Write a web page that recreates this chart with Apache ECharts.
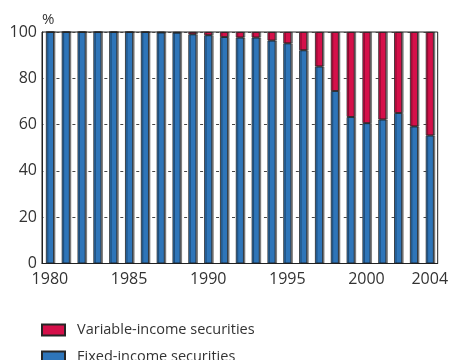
<!DOCTYPE html>
<html>
<head>
<meta charset="utf-8">
<script src="https://cdn.jsdelivr.net/npm/echarts@6/dist/echarts.min.js"></script>
<style>
  html, body { margin: 0; padding: 0; background: #fff; }
  #chart { width: 451px; height: 360px; }
</style>
</head>
<body>
<div id="chart"></div>
<script>
// Share of fixed- and variable-income securities, in per cent
const years = ['1980','1981','1982','1983','1984','1985','1986','1987','1988','1989',
               '1990','1991','1992','1993','1994','1995','1996','1997','1998','1999',
               '2000','2001','2002','2003','2004'];
const fixedIncome = [100, 100, 100, 100, 100, 100, 100, 99.8, 99.7, 99.0,
                     98.6, 97.8, 97.6, 97.6, 96.3, 95.1, 92.1, 85.1, 74.5, 63.3,
                     60.6, 62.2, 65.0, 59.2, 55.3];
const variableIncome = [0, 0, 0, 0, 0, 0, 0, 0.2, 0.3, 1.0,
                        1.4, 2.2, 2.4, 2.4, 3.7, 4.9, 7.9, 14.9, 25.5, 36.7,
                        39.4, 37.8, 35.0, 40.8, 44.7];
const yTicks = [0, 20, 40, 60, 80, 100];
const labelledYears = ['1980', '1985', '1990', '1995', '2000', '2004'];

const FONT = '"Open Sans", "Noto Sans", sans-serif';
const TEXT = '#333333';
const BLUE = '#2e75b9';
const RED = '#d5104a';
const VAR_NAME = 'Variable-income securities';
const FIX_NAME = 'Fixed-income securities';

const chart = echarts.init(document.getElementById('chart'), null, { renderer: 'canvas' });

const barStyle = (color) => ({
  color: color,
  borderColor: '#262626',
  borderWidth: 0.8,
  shadowColor: 'rgba(0,0,0,0.45)',
  shadowOffsetX: 1.5,
  shadowOffsetY: 0,
  shadowBlur: 0
});

const legendItem = (name, top) => ({
  orient: 'vertical',
  left: 41, top: top,
  padding: 0,
  itemWidth: 23, itemHeight: 11,
  icon: 'rect',
  data: [name],
  textStyle: { fontFamily: FONT, fontSize: 14.5, color: TEXT, padding: [0, 0, 0, 7] }
});

const slot = 399 / years.length;

chart.setOption({
  animation: false,
  title: {
    text: '%',
    left: 37,
    top: 7,
    textStyle: { fontFamily: FONT, fontSize: 15, fontWeight: 'normal', color: TEXT }
  },
  grid: {
    left: 42, right: 10, top: 32, height: 231.5,
    show: true, borderColor: '#222', borderWidth: 1, backgroundColor: 'transparent'
  },
  legend: [legendItem(VAR_NAME, 322.5), legendItem(FIX_NAME, 349.5)],
  xAxis: {
    type: 'category',
    data: years,
    axisLine: { lineStyle: { color: '#222', width: 1 } },
    axisTick: { show: false },
    axisLabel: {
      interval: 0,
      margin: 8,
      fontFamily: FONT, fontSize: 16, color: TEXT,
      formatter: (v) => labelledYears.indexOf(v) >= 0 ? v : ''
    }
  },
  yAxis: {
    type: 'value',
    min: yTicks[0], max: yTicks[yTicks.length - 1], interval: 20,
    axisLine: { show: true, lineStyle: { color: '#222', width: 1 } },
    axisTick: { show: false },
    axisLabel: { margin: 5, fontFamily: FONT, fontSize: 16, color: TEXT },
    splitLine: {
      show: true,
      lineStyle: { color: '#444', width: 1, type: [3, slot - 3], dashOffset: 1.5 }
    }
  },
  series: [
    {
      name: FIX_NAME,
      type: 'bar', stack: 'total',
      data: fixedIncome,
      barWidth: 8,
      itemStyle: barStyle(BLUE)
    },
    {
      name: VAR_NAME,
      type: 'bar', stack: 'total',
      data: variableIncome,
      barWidth: 8,
      itemStyle: barStyle(RED)
    }
  ]
});
</script>
</body>
</html>
